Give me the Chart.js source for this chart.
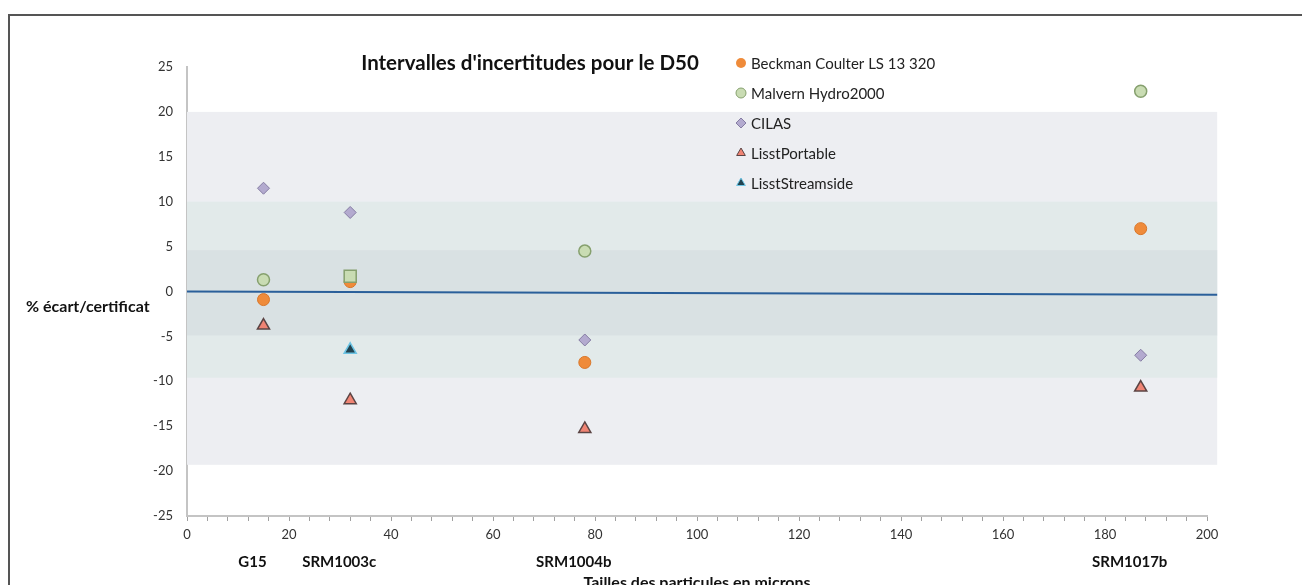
<!DOCTYPE html>
<html lang="fr">
<head>
  <meta charset="UTF-8">
  <title>Intervalles d'incertitudes pour le D50</title>
  <script src="https://cdn.jsdelivr.net/npm/chart.js"></script>
  <style>
    body { margin: 0; overflow: hidden; background: #fff; font-family: Lato, Arial, sans-serif; }
    #wrap { position: relative; width: 1302px; height: 585px; }
    #frame { position: absolute; left: 8px; top: 14px; width: 1400px; height: 700px;
             border-left: 2px solid #555; border-top: 2px solid #555; }
    canvas { position: absolute; left: 0; top: 0; }
  </style>
</head>
<body>
<div id="wrap">
  <div id="frame"></div>
  <canvas id="d50Chart" width="1302" height="585"></canvas>
</div>

<script>
  // taille des particules (microns) pour chaque etalon
  const samples = ['G15', 'SRM1003c', 'SRM1004b', 'SRM1017b'];
  const sizes = [15, 32, 78, 187];

  // % ecart au certificat
  const beckman = [-0.9, 1.1, -7.9, 7.0];
  const malvern = [1.3, 1.7, 4.5, 22.3];
  const cilas = [11.5, 8.8, -5.4, -7.1];
  const lisstPortable = [-3.8, -12.1, -15.3, -10.7];
  const lisstStreamside = [null, -6.5, null, null];

  // bandes d'incertitude [bas, haut], de la plus large a la plus etroite
  const bands = [[-19.3, 20], [-9.6, 10], [-4.9, 4.6]];
  const bandColors = ['#edeef2', '#e2eaea', '#d9e1e3'];
  const bandRange = [0, 202];

  // droite de reference
  const refX = [0, 202];
  const refY = [0, -0.35];

  function pts(vals) {
    const out = [];
    vals.forEach((v, i) => { if (v !== null) out.push({ x: sizes[i], y: v }); });
    return out;
  }

  const series = [
    { label: 'Beckman Coulter LS 13 320', data: pts(beckman), pointStyle: 'circle', radius: 6,
      bg: '#ef8b3a', border: '#d9772a', bw: 1, legendBorder: 0 },
    { label: 'Malvern Hydro2000', data: pts(malvern), pointStyle: ['circle', 'rect', 'circle', 'circle'],
      radius: [6, 8.5, 6, 6], bg: '#c9dcb3', border: '#86a06e', bw: 1.5, legendBorder: 1 },
    { label: 'CILAS', data: pts(cilas), pointStyle: 'rectRot', radius: 6,
      bg: '#b3aacf', border: '#857ca3', bw: 1, legendBorder: 1 },
    { label: 'LisstPortable', data: pts(lisstPortable), pointStyle: 'triangle', radius: 7,
      bg: '#f08474', border: '#5b4444', bw: 1.5, legendBorder: 1 },
    { label: 'LisstStreamside', data: pts(lisstStreamside), pointStyle: 'triangle', radius: 7,
      bg: '#22424f', border: '#6cc4e4', bw: 1.5, legendBorder: 1 }
  ];

  // les dernieres series passent au-dessus
  const datasets = series.map((s, i) => ({
    label: s.label,
    data: s.data,
    pointStyle: s.pointStyle,
    pointRadius: s.radius,
    pointBackgroundColor: s.bg,
    pointBorderColor: s.border,
    pointBorderWidth: s.bw,
    showLine: false,
    order: series.length - i
  }));
  datasets.push({
    label: 'ref',
    type: 'line',
    data: refX.map((x, i) => ({ x: x, y: refY[i] })),
    borderColor: '#2a5f9a',
    borderWidth: 2,
    pointRadius: 0,
    clip: false,
    order: 10
  });

  const bandPlugin = {
    id: 'bands',
    beforeDatasetsDraw(chart) {
      const { ctx, scales: { x, y } } = chart;
      ctx.save();
      bands.forEach((b, i) => {
        const x0 = x.getPixelForValue(bandRange[0]);
        const x1 = x.getPixelForValue(bandRange[1]);
        const yTop = y.getPixelForValue(b[1]);
        const yBot = y.getPixelForValue(b[0]);
        ctx.fillStyle = bandColors[i];
        ctx.fillRect(x0, yTop, x1 - x0, yBot - yTop);
      });
      ctx.restore();
    }
  };

  const textPlugin = {
    id: 'texts',
    afterDraw(chart) {
      const { ctx, chartArea, scales: { x } } = chart;
      ctx.save();
      ctx.fillStyle = '#111';
      ctx.textBaseline = 'middle';

      // titre
      ctx.font = 'bold 20.5px Lato';
      ctx.textAlign = 'center';
      ctx.fillText("Intervalles d'incertitudes pour le D50", 530, 63);

      // titre axe y
      ctx.font = 'bold 16px Lato';
      ctx.textAlign = 'left';
      ctx.fillText('% écart/certificat', 26, 307);

      // noms des etalons
      ctx.font = 'bold 15px Lato';
      ctx.textAlign = 'center';
      samples.forEach((s, i) => {
        ctx.fillText(s, x.getPixelForValue(sizes[i]) - 11, 562);
      });

      // titre axe x
      ctx.font = 'bold 16px Lato';
      ctx.fillText('Tailles des particules en microns', (chartArea.left + chartArea.right) / 2, 583);

      // legende
      ctx.font = '15px Lato';
      ctx.textAlign = 'left';
      series.forEach((s, i) => {
        const ly = 63 + i * 30;
        const style = Array.isArray(s.pointStyle) ? s.pointStyle[0] : s.pointStyle;
        ctx.fillStyle = s.bg;
        ctx.strokeStyle = s.border;
        ctx.lineWidth = s.legendBorder;
        Chart.helpers.drawPoint(ctx, { pointStyle: style, radius: 5, rotation: 0, borderWidth: s.legendBorder }, 741, ly);
        ctx.fillStyle = '#222';
        ctx.fillText(s.label, 751, ly + 1);
      });
      ctx.restore();
    }
  };

  new Chart(document.getElementById('d50Chart'), {
    type: 'scatter',
    data: { datasets: datasets },
    plugins: [bandPlugin, textPlugin],
    options: {
      responsive: false,
      animation: false,
      layout: { padding: { left: 0, top: 67, right: 95, bottom: 0 } },
      plugins: { legend: { display: false }, tooltip: { enabled: false }, title: { display: false } },
      scales: {
        x: {
          type: 'linear',
          min: 0,
          max: 200,
          afterFit: s => { s.height = 69; },
          grid: { drawOnChartArea: false, drawTicks: true, tickLength: 5, color: '#a0a0a0' },
          border: { color: '#c4c4c4', width: 2 },
          ticks: {
            stepSize: 4,
            autoSkip: false,
            maxRotation: 0,
            padding: 6,
            color: '#333',
            font: { family: 'Lato', size: 13 },
            callback: v => (v % 20 === 0 ? v : '')
          }
        },
        y: {
          min: -25,
          max: 25,
          afterFit: s => { s.width = 187; },
          grid: { display: false },
          border: { color: '#c4c4c4', width: 2 },
          ticks: {
            stepSize: 5,
            padding: 6,
            color: '#333',
            font: { family: 'Lato', size: 13 }
          }
        }
      }
    }
  });
</script>
</body>
</html>
